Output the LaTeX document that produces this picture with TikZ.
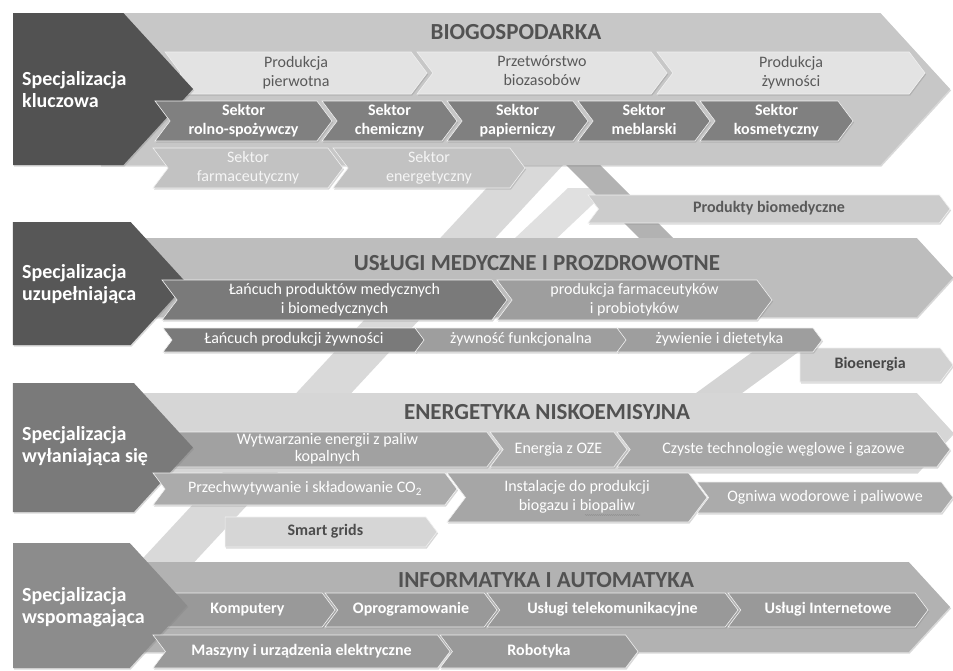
\documentclass[tikz,border=0pt]{standalone}
\usepackage{fontspec}
\setmainfont{Carlito}
\usetikzlibrary{shapes.symbols,shadows,decorations.pathmorphing}

\begin{document}
\begin{tikzpicture}[x=1pt,y=-1pt,
    every node/.style={font=\fontsize{16}{19}\selectfont, align=center, inner sep=0pt},
    boxshadow/.style={drop shadow={opacity=0.3, shadow xshift=1pt, shadow yshift=-1.5pt}},
    sz/.style 2 args={minimum width=#1pt, minimum height=#2pt},
    band/.style={shape=signal, signal to=east, signal pointer angle=95, fill=#1, boxshadow},
    spec/.style={shape=signal, signal to=east, signal pointer angle=95, fill=#1, boxshadow},
    spectxt/.style={anchor=west, align=left, text=white, font=\bfseries\fontsize{20}{22}\selectfont},
    bandtitle/.style={text=black!68, font=\bfseries\fontsize{23}{27}\selectfont},
    chev/.style={shape=signal, signal to=east, signal from=west, signal pointer angle=106,
      fill=#1, draw=black!6, line width=0.6pt, text depth=4pt, boxshadow},
    chevend/.style={chev=#1, signal from=nowhere},
    txtwhite/.style={text=white},
    txtgrey/.style={text=black!65},
    txtbold/.style={font=\bfseries\fontsize{16}{19}\selectfont}
  ]
  \useasboundingbox (0,0) rectangle (953,670);
  \fill[white] (0,0) rectangle (953,670);

  % diagonal links between the sections
  \fill[black!15] (522,150) -- (577,150) -- (187,570) -- (132,570) -- cycle;
  \fill[black!12] (568,188) -- (610,188) -- (555,240) -- (513,240) -- cycle;
  \fill[black!30] (556,155) -- (590,155) -- (675,240) -- (641,240) -- cycle;
  \fill[black!17] (762,345) -- (808,345) -- (738,396) -- (692,396) -- cycle;

  % main bands
  \node[band=black!22, sz={850}{152}] (bandbio) at (490.2,89) {};
  \node[band=black!26, sz={833}{79}] (bandmed) at (518.4,277.5) {};
  \node[band=black!16, sz={813}{79}] (bandene) at (528.4,432.5) {};
  \node[band=black!30, sz={810}{90}] (bandinf) at (524.4,607) {};

  \node[bandtitle] (tbio) at (516,32) {BIOGOSPODARKA};
  \node[bandtitle] (tmed) at (537,263) {USŁUGI MEDYCZNE I PROZDROWOTNE};
  \node[bandtitle] (tene) at (547,412) {ENERGETYKA NISKOEMISYJNA};
  \node[bandtitle] (tinf) at (546,580) {INFORMATYKA I AUTOMATYKA};

  \node[chev=black!20, sz={362}{28}, txtgrey, txtbold] (biomed) at (769,209) {Produkty biomedyczne};
  \node[chevend=black!18, sz={153}{34}, text=black!72, txtbold] (bioen) at (870.1,365) {Bioenergia};
  \node[chevend=black!16, sz={212}{30}, text=black!70, txtbold] (smart) at (325.4,532) {Smart grids};

  % specjalizacja kluczowa
  \node[chev=black!11, sz={262}{42}, txtgrey] (pierw) at (296,73) {Produkcja\\pierwotna};
  \node[chev=black!11, sz={250}{42}, txtgrey] (przetw) at (542,73) {Przetwórstwo\\biozasobów};
  \node[chev=black!11, sz={268}{42}, txtgrey] (zywn) at (791,73) {Produkcja\\żywności};
  \node[spec=black!68, sz={180}{152}] (spkl) at (68.2,89) {};
  \node[spectxt] (spkltxt) at (22,90) {Specjalizacja\\kluczowa};
  \node[chev=black!50, sz={177}{40}, txtwhite, txtbold] (rolno) at (243.5,121) {Sektor\\rolno-spożywczy};
  \node[chev=black!50, sz={135}{40}, txtwhite, txtbold] (chem) at (389.5,121) {Sektor\\chemiczny};
  \node[chev=black!50, sz={141}{40}, txtwhite, txtbold] (papier) at (517.5,121) {Sektor\\papierniczy};
  \node[chev=black!50, sz={132}{40}, txtwhite, txtbold] (mebl) at (644,121) {Sektor\\meblarski};
  \node[chev=black!50, sz={153}{40}, txtwhite, txtbold] (kosm) at (776.5,121) {Sektor\\kosmetyczny};
  \node[chev=black!24, sz={190}{40}, text=black!4] (farm) at (248,168) {Sektor\\farmaceutyczny};
  \node[chev=black!24, sz={192}{40}, text=black!4] (energ) at (429,168) {Sektor\\energetyczny};

  % specjalizacja uzupelniajaca
  \node[spec=black!66, sz={174}{123}] (spuz) at (71.8,283.5) {};
  \node[spectxt] (spuztxt) at (22,284) {Specjalizacja\\uzupełniająca};
  \node[chev=black!52, sz={345}{40}, txtwhite] (lanc) at (334.5,300) {Łańcuch produktów medycznych\\i biomedycznych};
  \node[chev=black!38, sz={275}{40}, txtwhite] (farmac) at (634.5,300) {produkcja farmaceutyków\\i probiotyków};
  \node[chev=black!52, sz={262}{24}, txtwhite] (lancz) at (294,340) {Łańcuch produkcji żywności};
  \node[chev=black!38, sz={212}{24}, txtwhite] (funk) at (521,340) {żywność funkcjonalna};
  \node[chev=black!38, sz={205}{24}, txtwhite] (diet) at (719.5,340) {żywienie i dietetyka};

  % specjalizacja wylaniajaca sie
  \node[chev=black!37, sz={345}{35}, txtwhite, font=\fontsize{16}{17}\selectfont] (wytw) at (327.5,449.5) {Wytwarzanie energii z paliw\\kopalnych};
  \node[chev=black!33, sz={137}{35}, txtwhite] (oze) at (558.5,449.5) {Energia z OZE};
  \node[chev=black!35, sz={333}{35}, txtwhite] (czyste) at (783.5,449.5) {Czyste technologie węglowe i gazowe};
  \node[spec=black!52, sz={180}{129}] (spwy) at (73.4,447.5) {};
  \node[spectxt] (spwytxt) at (22,446) {Specjalizacja\\wyłaniająca się};
  \node[chev=black!33, sz={304}{32}, txtwhite] (przech) at (305,489) {Przechwytywanie i składowanie CO\textsubscript{2}};
  \node[chev=black!35, sz={260}{49}, txtwhite] (inst) at (577,497.5) {Instalacje do produkcji\\biogazu i biopaliw};
  \node[chev=black!33, sz={256}{31}, txtwhite] (ogniwa) at (825,497.5) {Ogniwa wodorowe i paliwowe};
  \draw[black!45, decorate, decoration={snake, amplitude=0.5pt, segment length=2pt}] (585,515) -- (640,515);

  % specjalizacja wspomagajaca
  \node[chev=black!40, sz={175}{34}, txtwhite, txtbold] (komp) at (247.5,610) {Komputery};
  \node[chev=black!40, sz={172}{34}, txtwhite, txtbold] (oprog) at (411,610) {Oprogramowanie};
  \node[chev=black!40, sz={251}{34}, txtwhite, txtbold] (telek) at (612.5,610) {Usługi telekomunikacyjne};
  \node[chev=black!40, sz={200}{34}, txtwhite, txtbold] (inter) at (828,610) {Usługi Internetowe};
  \node[spec=black!45, sz={174}{125}] (spws) at (71.4,605.5) {};
  \node[spectxt] (spwstxt) at (22,607) {Specjalizacja\\wspomagająca};
  \node[chev=black!40, sz={297}{33}, txtwhite, txtbold] (maszyny) at (301.5,651.5) {Maszyny i urządzenia elektryczne};
  \node[chev=black!40, sz={198}{33}, txtwhite, txtbold] (robot) at (539,651.5) {Robotyka};
\end{tikzpicture}
\end{document}
